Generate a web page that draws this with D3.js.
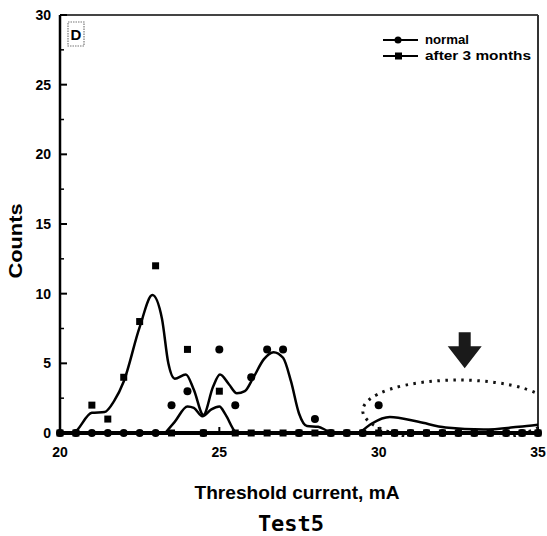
<!DOCTYPE html>
<html>
<head>
<meta charset="utf-8">
<script src="https://cdn.jsdelivr.net/npm/d3@7"></script>
<style>
  body { margin: 0; background: #fff; }
  svg { display: block; }
</style>
</head>
<body>
<div id="chart"></div>
<script>
// threshold current steps (mA)
const currents = [20, 20.5, 21, 21.5, 22, 22.5, 23, 23.5, 24, 24.5, 25, 25.5, 26, 26.5, 27, 27.5,
    28, 28.5, 29, 29.5, 30, 30.5, 31, 31.5, 32, 32.5, 33, 33.5, 34, 34.5, 35];
const normalCounts = [0, 0, 0, 0, 0, 0, 0, 2, 3, 0, 6, 2, 4, 6, 6, 0,
    1, 0, 0, 0, 2, 0, 0, 0, 0, 0, 0, 0, 0, 0, 0];
const afterCounts = [0, 0, 2, 1, 4, 8, 12, 0, 6, 0, 3, 0, 0, 0, 0, 0,
    0, 0, 0, 0, 0, 0, 0, 0, 0, 0, 0, 0, 0, 0, 0];

// fitted curves
const fitMainX = [20, 20.4, 21, 21.4, 21.7, 22, 22.5, 22.9, 23.2, 23.4, 23.6, 23.95, 24.2, 24.5, 24.8, 25.02,
    25.3, 25.55, 25.8, 26.05, 26.4, 26.7, 27, 27.25, 27.5, 27.75, 28.1, 28.4, 28.7, 29.4];
const fitMainY = [0, 0, 1.45, 1.5, 2.3, 3.7, 7.6, 9.9, 8.2, 5, 3.9, 4.2, 3.1, 1.3, 3.3, 4.2,
    3.5, 2.85, 3.0, 3.9, 5.3, 5.8, 5.4, 3.7, 1.4, 0.5, 0.45, 0.15, 0, 0];
const fitSmallX = [23.3, 23.6, 24, 24.2, 24.47, 24.75, 25, 25.2, 25.5, 25.6];
const fitSmallY = [0, 0.8, 1.9, 1.8, 1.2, 1.7, 1.9, 1.3, 0.1, 0];
const fitRightX = [29.4, 29.8, 30.35, 31.25, 32.1, 33.3, 34.4, 35];
const fitRightY = [0, 0.7, 1.15, 0.8, 0.4, 0.25, 0.45, 0.6];

const xTicks = [20, 25, 30, 35];
const yTicks = [0, 5, 10, 15, 20, 25, 30];
const seriesNames = ["normal", "after 3 months"];

const width = 547, height = 536;
const margin = {top: 15, right: 9, bottom: 103, left: 60};
const plotW = width - margin.left - margin.right;
const plotH = height - margin.top - margin.bottom;

const svg = d3.select("#chart")
    .append("svg")
    .attr("width", width)
    .attr("height", height)
    .style("font-family", "'Liberation Sans', Arial, sans-serif");

const g = svg.append("g")
    .attr("transform", `translate(${margin.left}, ${margin.top})`);

const x = d3.scaleLinear().domain([20, 35]).range([0, plotW]);
const y = d3.scaleLinear().domain([0, 30]).range([plotH, 0]);

g.append("clipPath").attr("id", "plotclip")
    .append("rect").attr("x", 0).attr("y", -2).attr("width", plotW).attr("height", plotH + 6);

// frame
g.append("line").attr("x1", 0).attr("x2", plotW).attr("y1", 0).attr("y2", 0)
    .attr("stroke", "#444").attr("stroke-width", 2);
g.append("line").attr("x1", plotW).attr("x2", plotW).attr("y1", 0).attr("y2", plotH)
    .attr("stroke", "#333").attr("stroke-width", 2);

// ticks (inward)
const yMinor = [2.5, 7.5, 12.5, 17.5, 22.5, 27.5];
const xMinor = [22.5, 27.5, 32.5];
yTicks.forEach(function (t) {
    g.append("line").attr("x1", 0).attr("x2", 7).attr("y1", y(t)).attr("y2", y(t))
        .attr("stroke", "#000").attr("stroke-width", 2);
    g.append("text").attr("x", -9).attr("y", y(t) + 5)
        .attr("text-anchor", "end").attr("font-size", 14).attr("font-weight", "bold")
        .text(t);
});
yMinor.forEach(function (t) {
    g.append("line").attr("x1", 0).attr("x2", 4).attr("y1", y(t)).attr("y2", y(t))
        .attr("stroke", "#000").attr("stroke-width", 1.5);
});
xTicks.forEach(function (t) {
    g.append("line").attr("x1", x(t)).attr("x2", x(t)).attr("y1", plotH).attr("y2", plotH - 6)
        .attr("stroke", "#000").attr("stroke-width", 2);
    g.append("text").attr("x", x(t)).attr("y", plotH + 24)
        .attr("text-anchor", "middle").attr("font-size", 14).attr("font-weight", "bold")
        .text(t);
});
xMinor.forEach(function (t) {
    g.append("line").attr("x1", x(t)).attr("x2", x(t)).attr("y1", plotH).attr("y2", plotH - 3)
        .attr("stroke", "#000").attr("stroke-width", 1.5);
});

// fitted curves
const line = d3.line()
    .x(d => x(d[0]))
    .y(d => y(d[1]))
    .curve(d3.curveMonotoneX);

[[fitMainX, fitMainY], [fitSmallX, fitSmallY], [fitRightX, fitRightY]].forEach(function (f) {
    g.append("path")
        .attr("d", line(d3.zip(f[0], f[1])))
        .attr("fill", "none")
        .attr("stroke", "#000")
        .attr("stroke-width", 2.5)
        .attr("clip-path", "url(#plotclip)");
});

// dotted annotation ellipse
g.append("ellipse")
    .attr("cx", x(32.5)).attr("cy", y(1.6))
    .attr("rx", x(35.5) - x(32.5)).attr("ry", y(0) - y(2.2))
    .attr("fill", "none").attr("stroke", "#111").attr("stroke-width", 3)
    .attr("stroke-dasharray", "2.5,5.5")
    .attr("clip-path", "url(#plotclip)");

// arrow
const ax = x(32.7), ay = y(4.65);
g.append("path")
    .attr("d", `M${ax - 6},${ay - 36} L${ax + 6},${ay - 36} L${ax + 6},${ay - 22} L${ax + 17},${ay - 22}
        L${ax},${ay} L${ax - 17},${ay - 22} L${ax - 6},${ay - 22} Z`)
    .attr("fill", "#1a1a1a");

// x axis + left axis (thick)
g.append("line").attr("x1", 0).attr("x2", plotW).attr("y1", plotH).attr("y2", plotH)
    .attr("stroke", "#000").attr("stroke-width", 4);
g.append("line").attr("x1", 0).attr("x2", 0).attr("y1", 0).attr("y2", plotH + 2)
    .attr("stroke", "#000").attr("stroke-width", 2.5);

// markers
const pts = d3.zip(currents, normalCounts, afterCounts);
g.selectAll("rect.after")
    .data(pts)
    .enter().append("rect")
    .attr("class", "after")
    .attr("x", d => x(d[0]) - 3.5)
    .attr("y", d => y(d[2]) - 3.5)
    .attr("width", 7).attr("height", 7)
    .attr("fill", "#000");
g.selectAll("circle.normal")
    .data(pts)
    .enter().append("circle")
    .attr("class", "normal")
    .attr("cx", d => x(d[0]))
    .attr("cy", d => y(d[1]))
    .attr("r", 4)
    .attr("fill", "#000");

// panel label
g.append("rect").attr("x", 8).attr("y", 7).attr("width", 16).attr("height", 24)
    .attr("fill", "none").attr("stroke", "#777").attr("stroke-width", 1.2)
    .attr("stroke-dasharray", "1.5,1");
g.append("text").attr("x", 16).attr("y", 25).attr("text-anchor", "middle")
    .attr("font-size", 15).attr("font-weight", "bold").text("D");

// legend
seriesNames.forEach(function (name, i) {
    const ly = 25 + i * 16;
    g.append("line").attr("x1", 323).attr("x2", 358).attr("y1", ly).attr("y2", ly)
        .attr("stroke", "#000").attr("stroke-width", 2);
    if (i === 0) {
        g.append("circle").attr("cx", 338).attr("cy", ly).attr("r", 3.5).attr("fill", "#000");
    } else {
        g.append("rect").attr("x", 335).attr("y", ly - 3.5).attr("width", 7).attr("height", 7).attr("fill", "#000");
    }
    g.append("text").attr("x", 365).attr("y", ly + 4)
        .attr("font-size", 12).attr("font-weight", "bold")
        .attr("textLength", i === 0 ? 44 : 106).attr("lengthAdjust", "spacingAndGlyphs")
        .text(name);
});

// axis titles
svg.append("text")
    .attr("transform", "translate(22, 241) rotate(-90)")
    .attr("text-anchor", "middle")
    .attr("font-size", 19).attr("font-weight", "bold")
    .attr("textLength", 75).attr("lengthAdjust", "spacingAndGlyphs")
    .text("Counts");

svg.append("text")
    .attr("x", 297).attr("y", 499)
    .attr("text-anchor", "middle")
    .attr("font-size", 19).attr("font-weight", "bold")
    .attr("textLength", 205).attr("lengthAdjust", "spacingAndGlyphs")
    .text("Threshold current, mA");

svg.append("text")
    .attr("x", 291).attr("y", 531)
    .attr("text-anchor", "middle")
    .style("font-family", "'DejaVu Sans Mono', monospace")
    .attr("font-size", 22).attr("font-weight", "bold")
    .text("Test5");
</script>
</body>
</html>
